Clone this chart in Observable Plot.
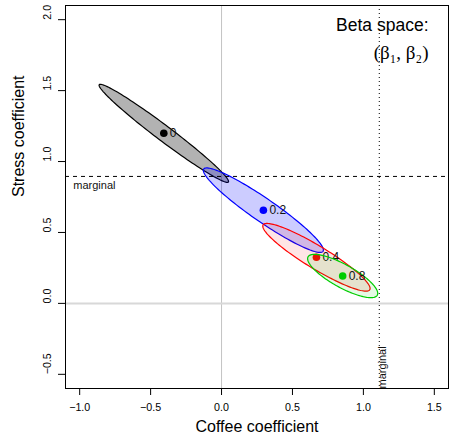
<!DOCTYPE html>
<html><head><meta charset="utf-8">
<script src="https://cdn.jsdelivr.net/npm/d3@7"></script>
<script src="https://cdn.jsdelivr.net/npm/@observablehq/plot@0.6"></script>
<style>body{margin:0;background:#fff}</style>
</head><body><div id="chart"></div>
<script>
// Values
const groupLabels = ["0", "0.2", "0.4", "0.8"];
const centerX   = [-0.407, 0.295, 0.669, 0.854];
const centerY   = [1.199, 0.657, 0.325, 0.193];
const semiMajor = [0.570, 0.511, 0.440, 0.279];
const semiMinor = [0.054, 0.082, 0.080, 0.081];
const angleDeg  = [-37.0, -34.6, -31.3, -29.0];
const xTicks = [-1.0, -0.5, 0.0, 0.5, 1.0, 1.5];
const yTicks = [-0.5, 0.0, 0.5, 1.0, 1.5, 2.0];
const marginalX = [1.112];
const marginalY = [0.895];

// Styles
const strokeColors = ["#000000", "#0000ff", "#ff0000", "#00cd00"];
const fillOpacities = [0.3, 0.2, 0.1, 0.1];

function ellipsePath(i) {
  const n = 144, t = angleDeg[i] * Math.PI / 180, pts = [];
  for (let k = 0; k < n; k++) {
    const a = 2 * Math.PI * k / n;
    const u = semiMajor[i] * Math.cos(a), v = semiMinor[i] * Math.sin(a);
    pts.push({x: centerX[i] + u * Math.cos(t) - v * Math.sin(t),
              y: centerY[i] + u * Math.sin(t) + v * Math.cos(t)});
  }
  return pts;
}

const fmt = d3.format(".1f");
const groupMarks = [];
groupLabels.forEach((lab, i) => {
  groupMarks.push(Plot.line(ellipsePath(i), {x: "x", y: "y", curve: "linear-closed",
    stroke: strokeColors[i], strokeWidth: 1.2, fill: strokeColors[i], fillOpacity: fillOpacities[i]}));
  groupMarks.push(Plot.dot([i], {x: d => centerX[d], y: d => centerY[d], r: 3.8,
    fill: strokeColors[i], stroke: "none"}));
  groupMarks.push(Plot.text([i], {x: d => centerX[d], y: d => centerY[d], text: d => groupLabels[d],
    dx: 6, textAnchor: "start", fontSize: 12, fill: "#111"}));
});

const chart = Plot.plot({
  width: 449, height: 443,
  marginLeft: 65, marginRight: 1, marginTop: 5, marginBottom: 55,
  style: {fontFamily: "'Liberation Sans', Arial, sans-serif", background: "#fff", color: "#000"},
  x: {domain: [-1.1, 1.6]},
  y: {domain: [-0.6, 2.1]},
  marks: [
    Plot.ruleX([0], {stroke: "#c4c4c4", strokeWidth: 1}),
    Plot.ruleY([0], {stroke: "#d8d8d8", strokeWidth: 2}),
    ...groupMarks,
    Plot.ruleY(marginalY, {stroke: "#000", strokeDasharray: "4,4", strokeWidth: 1}),
    Plot.ruleX(marginalX, {stroke: "#000", strokeDasharray: "1,3", strokeWidth: 1}),
    Plot.text(["marginal"], {x: -1.045, y: 0.83, textAnchor: "start", fontSize: 11, fill: "#111"}),
    Plot.text(["marginal"], {x: 1.135, y: -0.6, rotate: -90, textAnchor: "start", fontSize: 11, fill: "#111"}),
    Plot.frame({stroke: "#000", strokeWidth: 1}),
    Plot.axisX({ticks: xTicks, tickSize: 7, tickPadding: 8, tickFormat: fmt, fontSize: 10.7, label: null}),
    Plot.axisY({ticks: yTicks, tickSize: 7, tickFormat: () => "", label: null}),
    Plot.text(yTicks, {y: d => d, frameAnchor: "left", dx: -17.5, rotate: -90, text: d => fmt(d), fontSize: 10.7}),
    Plot.text(["Coffee coefficient"], {frameAnchor: "bottom", dy: 43.5, fontSize: 16}),
    Plot.text(["Stress coefficient"], {frameAnchor: "left", dx: -46.5, rotate: -90, fontSize: 16}),
    Plot.text(["Beta space:"], {frameAnchor: "top-right", dx: -20, dy: 13, textAnchor: "end", fontSize: 17.5}),
    Plot.text(["(β₁, β₂)"], {frameAnchor: "top-right", dx: -20, dy: 39.5, textAnchor: "end", fontSize: 19,
      fontFamily: "'Liberation Serif', 'DejaVu Serif', serif"})
  ]
});
document.getElementById("chart").appendChild(chart);
</script>
</body></html>
